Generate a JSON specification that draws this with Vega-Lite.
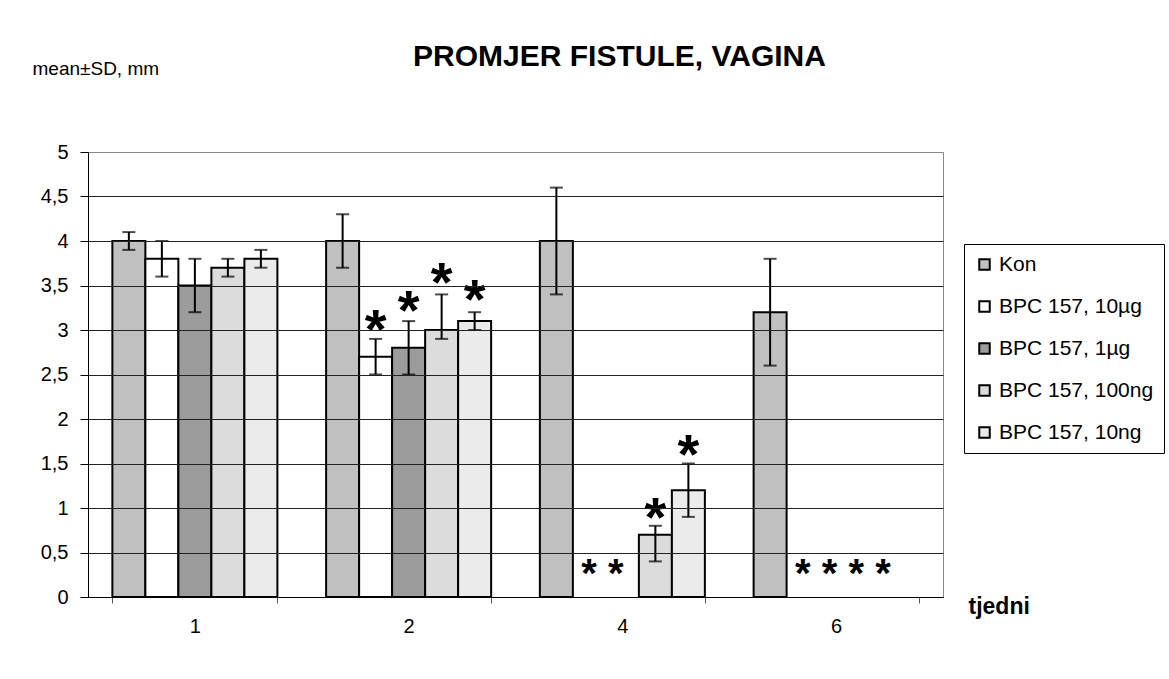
{
  "$schema": "https://vega.github.io/schema/vega-lite/v6.json",
  "width": 855,
  "height": 445,
  "autosize": {"type": "none"},
  "padding": {"left": 88, "top": 152, "right": 226, "bottom": 82},
  "background": "white",
  "title": {
    "text": "PROMJER FISTULE, VAGINA",
    "font": "Liberation Sans",
    "fontSize": 30,
    "fontWeight": "bold",
    "color": "black",
    "anchor": "middle",
    "frame": "group",
    "dx": 104,
    "baseline": "alphabetic",
    "offset": -37
  },
  "datasets": {
    "bars": [
      {"week": "1", "series": "Kon", "mean": 4.0, "lo": 3.9, "hi": 4.1},
      {"week": "1", "series": "BPC 157, 10µg", "mean": 3.8, "lo": 3.6, "hi": 4.0},
      {"week": "1", "series": "BPC 157, 1µg", "mean": 3.5, "lo": 3.2, "hi": 3.8},
      {"week": "1", "series": "BPC 157, 100ng", "mean": 3.7, "lo": 3.6, "hi": 3.8},
      {"week": "1", "series": "BPC 157, 10ng", "mean": 3.8, "lo": 3.7, "hi": 3.9},
      {"week": "2", "series": "Kon", "mean": 4.0, "lo": 3.7, "hi": 4.3},
      {"week": "2", "series": "BPC 157, 10µg", "mean": 2.7, "lo": 2.5, "hi": 2.9},
      {"week": "2", "series": "BPC 157, 1µg", "mean": 2.8, "lo": 2.5, "hi": 3.1},
      {"week": "2", "series": "BPC 157, 100ng", "mean": 3.0, "lo": 2.9, "hi": 3.4},
      {"week": "2", "series": "BPC 157, 10ng", "mean": 3.1, "lo": 3.0, "hi": 3.2},
      {"week": "4", "series": "Kon", "mean": 4.0, "lo": 3.4, "hi": 4.6},
      {"week": "4", "series": "BPC 157, 100ng", "mean": 0.7, "lo": 0.4, "hi": 0.8},
      {"week": "4", "series": "BPC 157, 10ng", "mean": 1.2, "lo": 0.9, "hi": 1.5},
      {"week": "6", "series": "Kon", "mean": 3.2, "lo": 2.6, "hi": 3.8}
    ],
    "stars": [
      {"week": "2", "series": "BPC 157, 10µg", "pos": 3.09, "label": "*"},
      {"week": "2", "series": "BPC 157, 1µg", "pos": 3.30, "label": "*"},
      {"week": "2", "series": "BPC 157, 100ng", "pos": 3.62, "label": "*"},
      {"week": "2", "series": "BPC 157, 10ng", "pos": 3.43, "label": "*"},
      {"week": "4", "series": "BPC 157, 100ng", "pos": 0.98, "label": "*"},
      {"week": "4", "series": "BPC 157, 10ng", "pos": 1.69, "label": "*"}
    ],
    "zerostars": [
      {"week": "4", "series": "BPC 157, 10µg", "pos": 0.32, "label": "* *"},
      {"week": "6", "series": "BPC 157, 10µg", "pos": 0.32, "label": "* * * *"}
    ]
  },
  "layer": [
    {
      "data": {"name": "bars"},
      "mark": {"type": "bar", "stroke": "black", "strokeWidth": 2},
      "encoding": {
        "x": {
          "field": "week", "type": "nominal",
          "scale": {"domain": ["1", "2", "4", "6"], "paddingInner": 0.228, "paddingOuter": 0.114},
          "axis": {
            "title": "tjedni",
            "labelAngle": 0,
            "labelFontSize": 20,
            "labelPadding": 13,
            "tickBand": "extent",
            "tickSize": 6,
            "tickColor": "#555555",
            "domainColor": "black",
            "titleX": 880,
            "titleY": 16,
            "titleAlign": "left",
            "titleBaseline": "alphabetic",
            "titleFontSize": 23,
            "titleFontWeight": "bold",
            "titleAnchor": null,
            "zindex": 1
          }
        },
        "xOffset": {
          "field": "series", "type": "nominal",
          "scale": {"domain": ["Kon", "BPC 157, 10µg", "BPC 157, 1µg", "BPC 157, 100ng", "BPC 157, 10ng"], "paddingInner": 0, "paddingOuter": 0}
        },
        "y": {
          "field": "mean", "type": "quantitative",
          "scale": {"domain": [0, 5], "nice": false},
          "axis": {
            "values": [0, 0.5, 1, 1.5, 2, 2.5, 3, 3.5, 4, 4.5, 5],
            "labelExpr": "replace(format(datum.value, '.1~f'), '.', ',')",
            "labelFontSize": 20,
            "labelPadding": 12,
            "tickSize": 8,
            "tickColor": "black",
            "domainColor": "black",
            "grid": true,
            "gridColor": {"condition": {"test": "datum.value == 5", "value": "#888888"}, "value": "#222222"},
            "title": "mean±SD, mm",
            "titleAngle": 0,
            "titleX": -56,
            "titleY": -78,
            "titleAlign": "left",
            "titleBaseline": "alphabetic",
            "titleFontSize": 19,
            "titleFontWeight": "normal",
            "zindex": 1
          }
        },
        "color": {
          "field": "series", "type": "nominal",
          "scale": {
            "domain": ["Kon", "BPC 157, 10µg", "BPC 157, 1µg", "BPC 157, 100ng", "BPC 157, 10ng"],
            "range": ["#c0c0c0", "#ffffff", "#9c9c9c", "#dcdcdc", "#ebebeb"]
          },
          "legend": {
            "title": null,
            "orient": "none",
            "legendX": 876,
            "legendY": 92,
            "padding": 10,
            "rowPadding": 20,
            "symbolType": "square",
            "symbolSize": 110,
            "symbolStrokeColor": "black",
            "symbolStrokeWidth": 2,
            "labelFontSize": 21,
            "labelOffset": 4,
            "strokeColor": "black",
            "fillColor": "white"
          }
        }
      }
    },
    {
      "data": {"name": "bars"},
      "mark": {"type": "rule", "color": "black", "strokeWidth": 2},
      "encoding": {
        "x": {"field": "week", "type": "nominal"},
        "xOffset": {"field": "series", "type": "nominal"},
        "y": {"field": "lo", "type": "quantitative"},
        "y2": {"field": "hi"}
      }
    },
    {
      "data": {"name": "bars"},
      "mark": {"type": "tick", "color": "black", "thickness": 2, "size": 13, "orient": "horizontal"},
      "encoding": {
        "x": {"field": "week", "type": "nominal"},
        "xOffset": {"field": "series", "type": "nominal"},
        "y": {"field": "lo", "type": "quantitative"}
      }
    },
    {
      "data": {"name": "bars"},
      "mark": {"type": "tick", "color": "black", "thickness": 2, "size": 13, "orient": "horizontal"},
      "encoding": {
        "x": {"field": "week", "type": "nominal"},
        "xOffset": {"field": "series", "type": "nominal"},
        "y": {"field": "hi", "type": "quantitative"}
      }
    },
    {
      "data": {"name": "stars"},
      "mark": {"type": "text", "fontSize": 56, "fontWeight": "bold", "color": "black", "baseline": "alphabetic", "dy": 26},
      "encoding": {
        "x": {"field": "week", "type": "nominal"},
        "xOffset": {"field": "series", "type": "nominal"},
        "y": {"field": "pos", "type": "quantitative"},
        "text": {"field": "label"}
      }
    },
    {
      "data": {"name": "zerostars"},
      "mark": {"type": "text", "fontSize": 40, "fontWeight": "bold", "color": "black", "baseline": "alphabetic", "align": "left", "dx": -8, "dy": 18},
      "encoding": {
        "x": {"field": "week", "type": "nominal"},
        "xOffset": {"field": "series", "type": "nominal"},
        "y": {"field": "pos", "type": "quantitative"},
        "text": {"field": "label"}
      }
    }
  ],
  "config": {
    "font": "Liberation Sans",
    "view": {"stroke": "#888888", "strokeWidth": 1},
    "axis": {"labelColor": "black", "titleColor": "black", "labelFont": "Liberation Sans", "titleFont": "Liberation Sans"},
    "legend": {"labelColor": "black", "labelFont": "Liberation Sans"}
  }
}
